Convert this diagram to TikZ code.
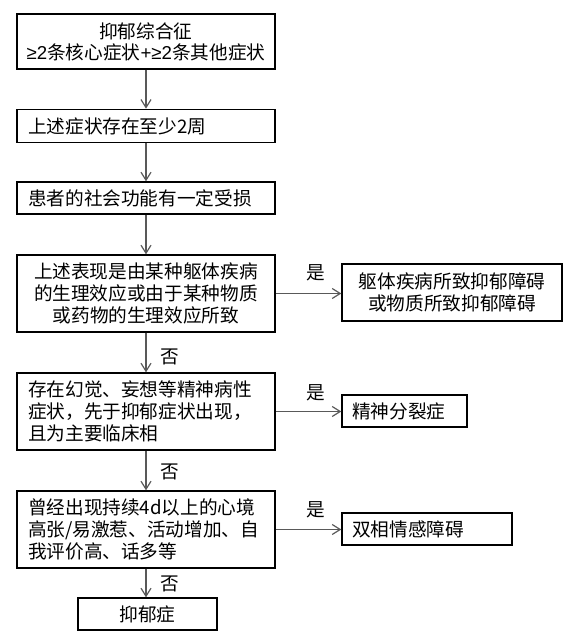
\documentclass[tikz,border=0pt]{standalone}
\usepackage{fontspec}
\setmainfont{Noto Sans CJK SC}
\newfontfamily\latf{Liberation Sans}
\usetikzlibrary{arrows.meta}
\begin{document}
\begin{tikzpicture}[x=0.75pt,y=-0.75pt,
  box/.style={draw=black,line width=1pt,inner sep=0pt,font=\fontsize{14pt}{16.5pt}\selectfont},
  lefttext/.style={text width=#1,align=left},
  arr/.style={draw=black!65,line width=0.9pt,-{Straight Barb[length=6pt,width=7.5pt]}},
  lbl/.style={font=\fontsize{14pt}{16pt}\selectfont,inner sep=0pt}]
\useasboundingbox (0,0) rectangle (572,640);
\node[box,minimum width=193.5pt,minimum height=41.25pt,align=center,font=\fontsize{14pt}{15.75pt}\selectfont] (b1) at (146,41.5)
  {抑郁综合征\\{\latf ≥2}条核心症状{\latf +≥2}条其他症状};
\node[box,minimum width=193.5pt,minimum height=25pt,lefttext=177pt] (b2) at (146,126) {上述症状存在至少2周};
\node[box,minimum width=193.5pt,minimum height=24pt,lefttext=177pt] (b3) at (146,198) {患者的社会功能有一定受损};
\node[box,minimum width=193.5pt,minimum height=57.75pt,align=center] (b4) at (146,293.5)
  {上述表现是由某种躯体疾病\\的生理效应或由于某种物质\\或药物的生理效应所致};
\node[box,minimum width=165pt,minimum height=42.75pt,align=center] (b5) at (452,292.5)
  {躯体疾病所致抑郁障碍\\或物质所致抑郁障碍};
\node[box,minimum width=193.5pt,minimum height=57.75pt,lefttext=177pt] (b6) at (146,411.5)
  {存在幻觉、妄想等精神病性\\症状，先于抑郁症状出现，\\且为主要临床相};
\node[box,minimum width=93.75pt,minimum height=24pt,lefttext=78.75pt] (b7) at (404.5,411) {精神分裂症};
\node[box,minimum width=193.5pt,minimum height=57.75pt,lefttext=177pt] (b8) at (146,529.5)
  {曾经出现持续4d以上的心境\\高张/易激惹、活动增加、自\\我评价高、话多等};
\node[box,minimum width=127.5pt,minimum height=24pt,lefttext=112.5pt] (b9) at (427,529) {双相情感障碍};
\node[box,minimum width=104.25pt,minimum height=24pt,align=center] (b10) at (147.5,614) {抑郁症};
\draw[arr] (b1.south) -- (b2.north);
\draw[arr] (b2.south) -- (b3.north);
\draw[arr] (b3.south) -- (b4.north);
\draw[arr] (b4.south) -- (b6.north);
\draw[arr] (b6.south) -- (b8.north);
\draw[arr] (b8.south) -- (b8.south |- b10.north);
\draw[arr] (b4.east) -- (b4.east -| b5.west);
\draw[arr] (b6.east) -- (b6.east -| b7.west);
\draw[arr] (b8.east) -- (b8.east -| b9.west);
\node[lbl] (y1) at (316,273) {是};
\node[lbl] (y2) at (316,393) {是};
\node[lbl] (y3) at (316,510) {是};
\node[lbl] (n1) at (170,357) {否};
\node[lbl] (n2) at (170,472) {否};
\node[lbl] (n3) at (170,584) {否};
\end{tikzpicture}
\end{document}
